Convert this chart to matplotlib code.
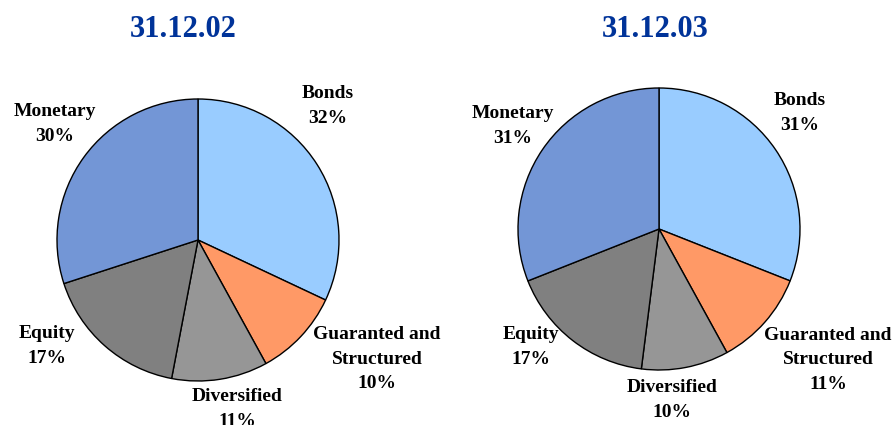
import matplotlib
matplotlib.use("Agg")
import matplotlib.pyplot as plt

categories = ["Bonds", "Guaranted and\nStructured", "Diversified", "Equity", "Monetary"]
values_2002 = [32, 10, 11, 17, 30]
values_2003 = [31, 11, 10, 17, 31]
titles = ["31.12.02", "31.12.03"]
colors = ["#99CCFF", "#FF9966", "#969696", "#808080", "#7396D6"]

H = 425
fig = plt.figure(figsize=(8.95, 4.25), dpi=100)
ax = fig.add_axes([0, 0, 1, 1])
ax.set_xlim(0, 895)
ax.set_ylim(0, H)
ax.set_aspect("equal")
ax.axis("off")

font = dict(family="Liberation Serif", fontweight="bold")

pies = [
    dict(vals=values_2002, title=titles[0], center=(198, 240), r=141, tpos=(183, 29),
         lpos=[(328, 106), (377, 359), (237, 409), (47, 346), (55, 124)]),
    dict(vals=values_2003, title=titles[1], center=(659, 229), r=141, tpos=(655, 29),
         lpos=[(800, 113), (828, 360), (672, 400), (531, 347), (513, 126)]),
]

for p in pies:
    cx, cy = p["center"]
    ax.pie(p["vals"], colors=colors, startangle=90, counterclock=False,
           center=(cx, H - cy), radius=p["r"],
           wedgeprops=dict(edgecolor="black", linewidth=1.0))
    ax.text(p["tpos"][0], H - p["tpos"][1], p["title"], ha="center", va="center",
            fontsize=22, color="#003399", **font)
    for cat, v, (lx, ly) in zip(categories, p["vals"], p["lpos"]):
        ax.text(lx, H - ly, f"{cat}\n{v}%", ha="center", va="center",
                fontsize=14, color="black", linespacing=1.6, **font)

ax.set_xlim(0, 895)
ax.set_ylim(0, H)
fig.savefig("out.png", dpi=100)
